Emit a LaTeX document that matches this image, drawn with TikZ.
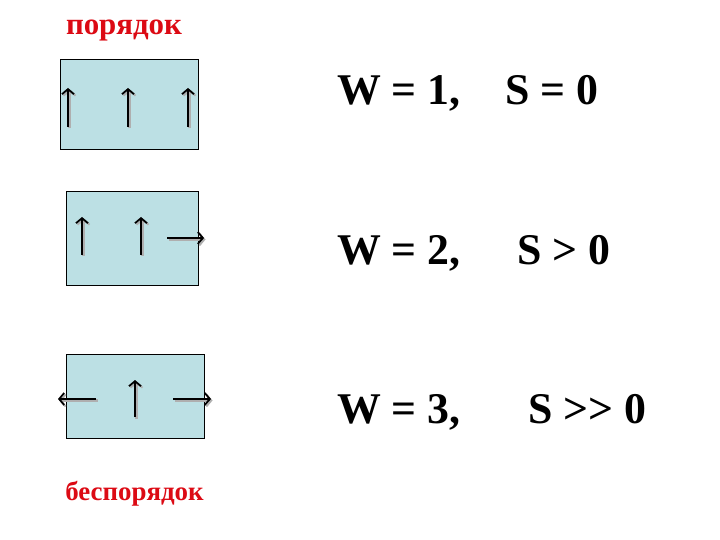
\documentclass[tikz,border=0pt]{standalone}
\usepackage{fontspec}
\setmainfont{Liberation Serif}
\usetikzlibrary{arrows.meta}
\definecolor{boxfill}{RGB}{188,224,228}
\definecolor{txtred}{RGB}{220,10,20}
\definecolor{shadowgray}{RGB}{175,175,175}
\tikzset{
  cell/.style={draw=black, line width=1bp, fill=boxfill},
  spin/.style={line width=2.2bp, -{Straight Barb[length=5bp,width=12bp,line width=1.8bp]}},
  spinshadow/.style={spin, draw=shadowgray},
  eqtext/.style={inner sep=0pt, anchor=base west, font=\bfseries\fontsize{44}{48}\selectfont},
  redtext/.style={inner sep=0pt, anchor=base, text=txtred, font=\bfseries\fontsize{31}{34}\selectfont}
}
\begin{document}
\begin{tikzpicture}[x=1bp,y=-1bp]
\useasboundingbox (0,0) rectangle (720,540);
% boxes
\node[cell, minimum width=138bp, minimum height=90bp, inner sep=0pt] (b1) at (129,105) {};
\node[cell, minimum width=132bp, minimum height=93bp, inner sep=0pt] (b2) at (132,238.5) {};
\node[cell, minimum width=138bp, minimum height=84bp, inner sep=0pt] (b3) at (135,396) {};
% row 1 arrows
\foreach \x/\n in {68/a, 128/b, 188/c}{
  \coordinate (r1\n s) at (\x,127);
  \coordinate (r1\n e) at (\x,88);
  \draw[spinshadow] ([xshift=1.5bp,yshift=-1.5bp]r1\n s) -- ([xshift=1.5bp,yshift=-1.5bp]r1\n e);
  \draw[spin] (r1\n s) -- (r1\n e);
}
% row 2 arrows
\foreach \x/\n in {82/a, 141/b}{
  \coordinate (r2\n s) at (\x,255);
  \coordinate (r2\n e) at (\x,217);
  \draw[spinshadow] ([xshift=1.5bp,yshift=-1.5bp]r2\n s) -- ([xshift=1.5bp,yshift=-1.5bp]r2\n e);
  \draw[spin] (r2\n s) -- (r2\n e);
}
\coordinate (r2cs) at (167,238);
\coordinate (r2ce) at (204,238);
\draw[spinshadow] ([xshift=1.5bp,yshift=-1.5bp]r2cs) -- ([xshift=1.5bp,yshift=-1.5bp]r2ce);
\draw[spin] (r2cs) -- (r2ce);
% row 3 arrows
\coordinate (r3as) at (96,399);
\coordinate (r3ae) at (58,399);
\coordinate (r3bs) at (135,417);
\coordinate (r3be) at (135,380);
\coordinate (r3cs) at (173,399);
\coordinate (r3ce) at (211,399);
\foreach \n in {a,b,c}{
  \draw[spinshadow] ([xshift=1.5bp,yshift=-1.5bp]r3\n s) -- ([xshift=1.5bp,yshift=-1.5bp]r3\n e);
  \draw[spin] (r3\n s) -- (r3\n e);
}
% red labels
\node[redtext] (top) at (124,35) {порядок};
\node[redtext, font=\bfseries\fontsize{27}{30}\selectfont] (bottom) at (134.5,500) {беспорядок};
% equations
\foreach \t/\xx/\yy/\n in {{W = 1,}/337/105/w1, {S = 0}/505/105/s1, {W = 2,}/337/265/w2, {S > 0}/517/265/s2, {W = 3,}/337/423/w3, {S >{}> 0}/528/423/s3}{
  \node[eqtext] (\n) at (\xx,\yy) {\t};
}
\end{tikzpicture}
\end{document}
